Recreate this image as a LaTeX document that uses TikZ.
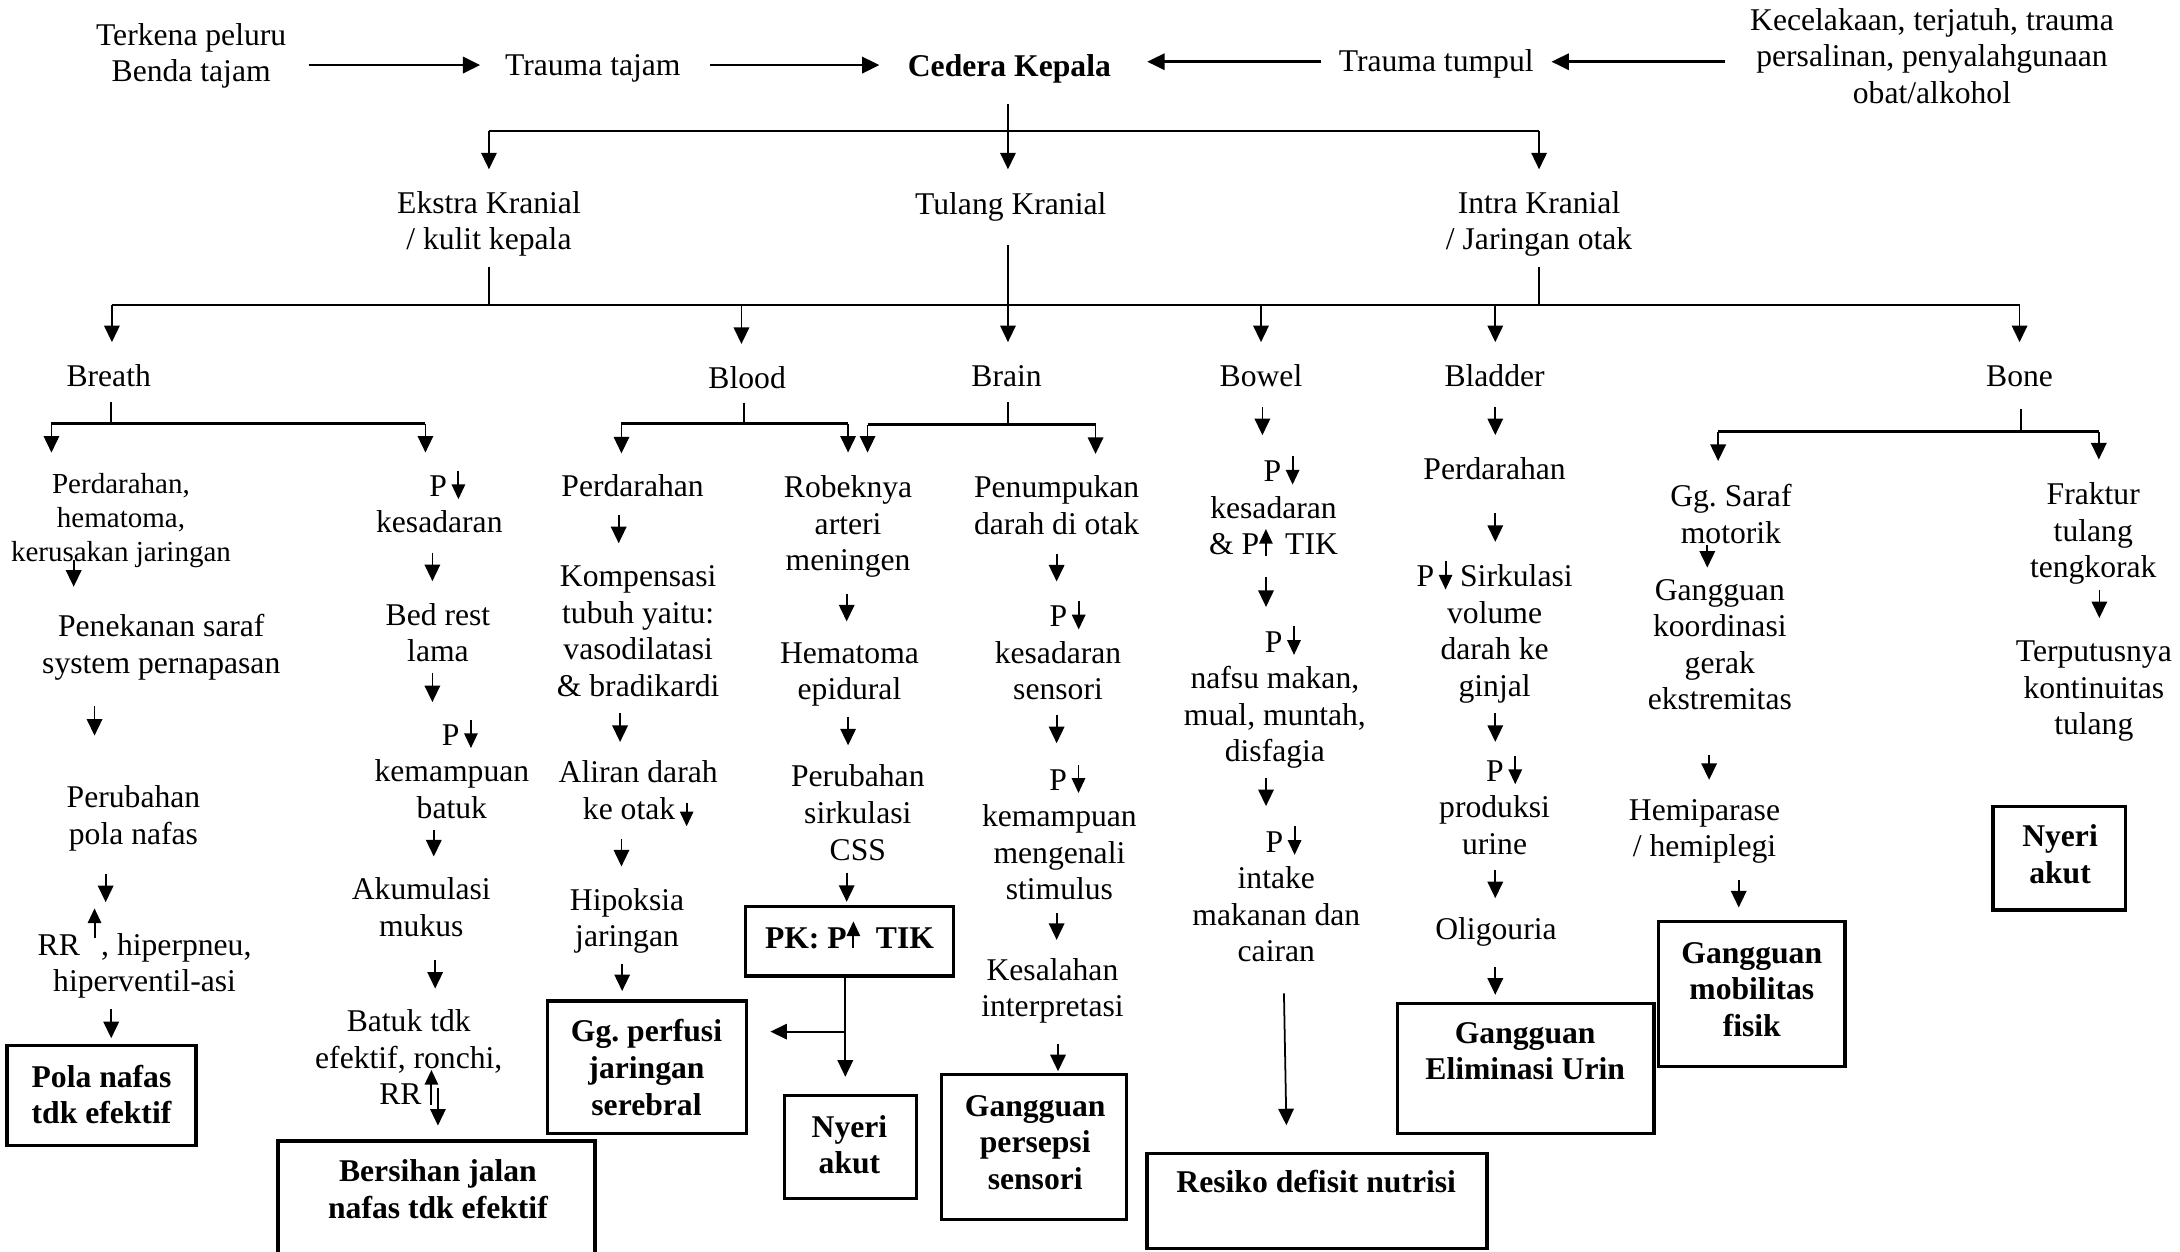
\documentclass[tikz,border=0pt]{standalone}
\usepackage{fontspec}
\setmainfont{Liberation Serif}
\usetikzlibrary{arrows.meta,calc,fit}
\newcommand\tlx[1]{\begin{tabular}[t]{@{}c@{}}#1\end{tabular}}
\newcommand\arw[2]{\smash{\tikz[baseline=0pt]\draw[line width=0.55pt,-{Triangle[length=4.2pt,width=3.8pt]}] (0,#1em) -- (0,#2em);}}
\newcommand\pdn{\kern0.15em\arw{0.81}{-0.09}}
\newcommand\varw[5][-3.5]{%
  \coordinate (vaX) at (#2,0);
  \coordinate (vaM) at ($(#3.south)!.5!(#4.north)$);
  \draw[arr] ($(vaX |- vaM)+(0,{#1-#5/2})$) -- ++(0,#5);}
\begin{document}
\begin{tikzpicture}[x=0.013903cm,y=-0.013903cm,
  txt/.style={anchor=base,inner sep=0pt,font=\fontsize{9}{10.4}\selectfont},
  smt/.style={anchor=base,inner sep=0pt,font=\fontsize{8.25}{9.7}\selectfont},
  btx/.style={anchor=base,inner sep=0pt,font=\fontsize{9}{10.4}\selectfont\bfseries},
  box/.style={draw,line width=0.9pt,inner sep=0pt},
  arr/.style={line width=0.5pt,-{Triangle[length=4.7pt,width=4.4pt]}},
  harr/.style={line width=0.8pt,-{Triangle[length=4.9pt,width=4.6pt]}},
  bus/.style={line width=0.8pt},
  stub/.style={line width=0.55pt},
  sl/.style={shorten <={#1*0.3956pt}},
  sr/.style={shorten >={#1*0.3956pt}}]
\path[fill=white,use as bounding box] (0,0) rectangle (1568,900);

% ---------- row 1
\node[txt] (t1) at (137.5,32.4) {\tlx{Terkena peluru\\Benda tajam}};
\node[txt] (t2) at (426.4,54) {\tlx{Trauma tajam}};
\node[btx] (ck) at (726,55) {\tlx{Cedera Kepala}};
\node[txt] (t3) at (1033,51.6) {\tlx{Trauma tumpul}};
\node[txt] (t4) at (1389.6,21.6) {\tlx{Kecelakaan, terjatuh, trauma\\persalinan, penyalahgunaan\\obat/alkohol}};
% ---------- row 2
\node[txt] (ek) at (351.7,153.4) {\tlx{Ekstra Kranial\\/ kulit kepala}};
\node[txt] (tk) at (727,154.6) {\tlx{Tulang Kranial}};
\node[txt] (ik) at (1107,153.4) {\tlx{Intra Kranial\\/ Jaringan otak}};
% ---------- row 3
\node[txt] (br) at (78.2,278) {\tlx{Breath}};
\node[txt] (bl) at (537.4,279.3) {\tlx{Blood}};
\node[txt] (bn) at (724,278) {\tlx{Brain}};
\node[txt] (bw) at (907,278) {\tlx{Bowel}};
\node[txt] (bd) at (1075,278) {\tlx{Bladder}};
\node[txt] (bo) at (1452.6,278) {\tlx{Bone}};
% ---------- breath left
\node[smt] (bra) at (87,355) {\tlx{Perdarahan,\\hematoma,\\kerusakan jaringan}};
\node[txt] (bb2) at (116,458) {\tlx{Penekanan saraf\\system pernapasan}};
\node[txt] (bb3) at (96,581) {\tlx{Perubahan\\pola nafas}};
\node[txt] (bb4) at (104,687) {\tlx{RR \arw{0.55}{1.48}, hiperpneu,\\hiperventil-asi}};
\node[box,fit={(5,752) (141,824)}] (pola) {};
\node[btx] (polat) at (73,782) {\tlx{Pola nafas\\tdk efektif}};
% ---------- breath right
\node[txt] (brk) at (316,357) {\tlx{\hspace*{0.5em}P\pdn\\kesadaran}};
\node[txt] (brb) at (315,449.6) {\tlx{Bed rest\\lama}};
\node[txt] (brkb) at (325,536) {\tlx{\hspace*{0.5em}P\pdn\\kemampuan\\batuk}};
\node[txt] (brak) at (303,647) {\tlx{Akumulasi\\mukus}};
\node[txt] (brbt) at (294,742) {\tlx{Batuk tdk\\efektif, ronchi,\\RR\kern0.1em\arw{0}{1.1}}};
\node[box,fit={(200,820.7) (428,915)}] (bj) {};
\node[btx] (bjt) at (315,850) {\tlx{Bersihan jalan\\nafas tdk efektif}};
% ---------- blood
\node[txt] (blp) at (455,357) {\tlx{Perdarahan}};
\node[txt] (blk) at (459,422) {\tlx{Kompensasi\\tubuh yaitu:\\vasodilatasi\\\& bradikardi}};
\node[txt] (bla) at (459,563) {\tlx{Aliran darah\\ke otak\kern0.15em\arw{0.52}{-0.22}}};
\node[txt] (blh) at (451,654.6) {\tlx{Hipoksia\\jaringan}};
\node[box,fit={(393.5,720) (537,815)}] (gp) {};
\node[btx] (gpt) at (465,749.4) {\tlx{Gg.\ perfusi\\jaringan\\serebral}};
% ---------- robeknya
\node[txt] (rb) at (610,358) {\tlx{Robeknya\\arteri\\meningen}};
\node[txt] (rh) at (611,477) {\tlx{Hematoma\\epidural}};
\node[txt] (rp) at (617,566) {\tlx{Perubahan\\sirkulasi\\CSS}};
\node[box,fit={(536,652) (686,702)}] (pk) {};
\node[btx] (pkt) at (611,682) {\tlx{PK: P\arw{0}{0.85}\hspace{0.25em} TIK}};
\node[box,fit={(564,788) (659,862)}] (ny1) {};
\node[btx] (ny1t) at (611,818) {\tlx{Nyeri\\akut}};
% ---------- brain right
\node[txt] (bnp) at (760,358) {\tlx{Penumpukan\\darah di otak}};
\node[txt] (bnk) at (761,450.7) {\tlx{\hspace*{0.6em}P\pdn\\kesadaran\\sensori}};
\node[txt] (bnm) at (762,568.3) {\tlx{\hspace*{0.5em}P\pdn\\kemampuan\\mengenali\\stimulus}};
\node[txt] (bnks) at (757,705) {\tlx{Kesalahan\\interpretasi}};
\node[box,fit={(677,773) (810,877)}] (gps) {};
\node[btx] (gpst) at (744.6,803) {\tlx{Gangguan\\persepsi\\sensori}};
% ---------- bowel
\node[txt] (bwk) at (916,346.5) {\tlx{\hspace*{0.5em}P\pdn\\kesadaran\\\& P\arw{-0.05}{0.82}\hspace{0.4em}TIK}};
\node[txt] (bwn) at (917,469) {\tlx{\hspace*{0.5em}P\pdn\\nafsu makan,\\mual, muntah,\\disfagia}};
\node[txt] (bwi) at (918,612.8) {\tlx{\hspace*{0.45em}P\pdn\\intake\\makanan dan\\cairan}};
\node[box,fit={(825,829.6) (1069.5,897.8)}] (rs) {};
\node[btx] (rst) at (946.7,858) {\tlx{Resiko defisit nutrisi}};
% ---------- bladder
\node[txt] (bdp) at (1075,345) {\tlx{Perdarahan}};
\node[txt] (bds) at (1075,422) {\tlx{P\pdn\ Sirkulasi\\volume\\darah ke\\ginjal}};
\node[txt] (bdu) at (1075,562) {\tlx{\hspace*{0.6em}P\pdn\\produksi\\urine}};
\node[txt] (bdo) at (1076,676) {\tlx{Oligouria}};
\node[box,fit={(1005,722) (1189.7,815)}] (el) {};
\node[btx] (elt) at (1097,750.4) {\tlx{Gangguan\\Eliminasi Urin}};
% ---------- bone
\node[txt] (bog) at (1245,364.5) {\tlx{Gg.\ Saraf\\motorik}};
\node[txt] (bok) at (1237,431.6) {\tlx{Gangguan\\koordinasi\\gerak\\ekstremitas}};
\node[txt] (boh) at (1226,589.8) {\tlx{Hemiparase\\/ hemiplegi}};
\node[box,fit={(1192.6,663) (1327,767)}] (mb) {};
\node[btx] (mbt) at (1260,692.8) {\tlx{Gangguan\\mobilitas\\fisik}};
\node[txt] (bof) at (1505.6,363) {\tlx{Fraktur\\tulang\\tengkorak}};
\node[txt] (bot) at (1506,476) {\tlx{Terputusnya\\kontinuitas\\tulang}};
\node[box,fit={(1433.5,580.3) (1529,654.5)}] (ny2) {};
\node[btx] (ny2t) at (1481.7,609) {\tlx{Nyeri\\akut}};

% ================= connectors
\coordinate (ya) at (0,46.8);
\coordinate (yb) at (0,44.4);
\draw[harr,sl=15.5,sr=17.4] (t1.east |- ya) -- (t2.west |- ya);
\draw[harr,sl=20.7,sr=20] (t2.east |- ya) -- (ck.west |- ya);
\draw[harr,sl=12.6,sr=25.7] (t3.west |- yb) -- (ck.east |- yb);
\draw[harr,sl=17.8,sr=12.4] (t4.west |- yb) -- (t3.east |- yb);

\coordinate (xc) at (725,0);
\coordinate (bus1) at (0,94.2);
\draw[arr,sl=11.4,sr=13.9] (ck.south -| xc) -- (tk.north -| xc);
\draw[bus] (ek.north |- bus1) -- (ik.north |- bus1);
\draw[arr,sr=12.7] (ek.north |- bus1) -- (ek.north);
\draw[arr,sr=12.7] (ik.north |- bus1) -- (ik.north);

\coordinate (bus2) at (0,219.4);
\draw[stub,sl=4] (ek.south) -- (ek.south |- bus2);
\draw[stub,sl=4] (ik.south) -- (ik.south |- bus2);
\draw[arr,sl=13.5,sr=13] (tk.south -| xc) -- (bn.north -| xc);
\foreach \n/\x in {br/80.5, bl/533.3, bw/907, bd/1075.5, bo/1452.6}{
  \coordinate (a\n) at (\x,0);
  \draw[arr,sr=13] (bus2 -| a\n) -- (\n.north -| a\n);}
\draw[bus] (bus2 -| abr) -- (bus2 -| abo);

% breath
\coordinate (sb1) at (0,304.6);
\coordinate (xbl) at (37,0); \coordinate (xbr) at (306,0); \coordinate (xbm) at (80,0);
\draw[stub,sl=3] (br.south -| xbm) -- (sb1 -| xbm);
\draw[bus] (sb1 -| xbl) -- (sb1 -| xbr);
\draw[arr,sr=11.8] (sb1 -| xbl) -- (bra.north -| xbl);
\draw[arr,sr=12.6] (sb1 -| xbr) -- (brk.north -| xbr);
\varw[-13]{53}{bra}{bb2}{19}
\varw[-8.8]{68}{bb2}{bb3}{21}
\varw[-3]{76}{bb3}{bb4}{20}
\varw[0]{80}{bb4}{pola}{21}
\varw{311}{brk}{brb}{20.6}
\varw[-6.2]{311}{brb}{brkb}{21}
\varw[-6]{312}{brkb}{brak}{19}
\varw[-1.6]{313}{brak}{brbt}{20.5}
\coordinate (xrr) at (315,0);
\draw[arr] ($(brbt.south -| xrr)+(0,-20.5)$) -- ($(bj.north -| xrr)+(0,-10)$);

% blood
\coordinate (sb2) at (0,304.6);
\coordinate (xbd) at (535,0); \coordinate (xbdl) at (447,0); \coordinate (xbdr) at (610,0);
\draw[stub,sl=1.8] (bl.south -| xbd) -- (sb2 -| xbd);
\draw[bus] (sb2 -| xbdl) -- (sb2 -| xbdr);
\draw[arr,sr=12] (sb2 -| xbdl) -- (blp.north -| xbdl);
\draw[arr,sr=13.6] (sb2 -| xbdr) -- (rb.north -| xbdr);
\varw{445}{blp}{blk}{20}
\varw{446}{blk}{bla}{21}
\varw{447}{bla}{blh}{20}
\varw[-1]{447.5}{blh}{gp}{19.5}

% brain
\coordinate (sb3) at (0,305.5);
\coordinate (xbn) at (725,0); \coordinate (xbnl) at (624,0); \coordinate (xbnr) at (788,0);
\draw[stub,sl=3] (bn.south -| xbn) -- (sb3 -| xbn);
\draw[bus] (sb3 -| xbnl) -- (sb3 -| xbnr);
\draw[arr,sr=13.6] (sb3 -| xbnl) -- (rb.north -| xbnl);
\draw[arr,sr=12.6] (sb3 -| xbnr) -- (bnp.north -| xbnr);
\varw[-1.6]{609}{rb}{rh}{20}
\varw{610}{rh}{rp}{20.4}
\varw[-0.8]{609}{rp}{pk}{21}
\coordinate (xpk) at (608,0);
\coordinate (pkj) at (608,742);
\draw[arr,sr=12.4] (pk.south -| xpk) -- (ny1.north -| xpk);
\draw[arr,sr=16] (pkj) -- (pkj -| gp.east);
\varw[-4]{760}{bnp}{bnk}{20}
\varw[-6]{760}{bnk}{bnm}{20}
\varw[-4.3]{760}{bnm}{bnks}{19}
\varw[5]{761}{bnks}{gps}{19.4}

% bowel
\varw[-4.2]{908}{bw}{bwk}{20.4}
\varw[-3]{910.6}{bwk}{bwn}{21.5}
\varw[-5.3]{910.6}{bwn}{bwi}{20}
\draw[arr] ($(bwi.south)+(5.5,14.4)$) -- ($(rs.north)+(-22,-19.1)$);

% bladder
\varw{1075.5}{bd}{bdp}{20.4}
\varw[1.1]{1075.5}{bdp}{bds}{20.8}
\varw[-2.9]{1075.5}{bds}{bdu}{20.6}
\varw[-4]{1075.5}{bdu}{bdo}{20}
\varw[3]{1075.5}{bdo}{el}{19.7}

% bone
\coordinate (sb4) at (0,310.6);
\coordinate (xbo) at (1453.6,0); \coordinate (xbol) at (1235.8,0); \coordinate (xbor) at (1509.6,0);
\draw[stub,sl=7.7] (bo.south -| xbo) -- (sb4 -| xbo);
\draw[bus] (sb4 -| xbol) -- (sb4 -| xbor);
\draw[arr,sr=14] (sb4 -| xbol) -- (bog.north -| xbol);
\draw[arr,sr=13.6] (sb4 -| xbor) -- (bof.north -| xbor);
\varw[-5.7]{1228}{bog}{bok}{16}
\varw[7]{1229.3}{bok}{boh}{18}
\varw[-0.5]{1250.6}{boh}{mb}{20}
\varw[-6]{1510}{bof}{bot}{20}
\end{tikzpicture}
\end{document}
